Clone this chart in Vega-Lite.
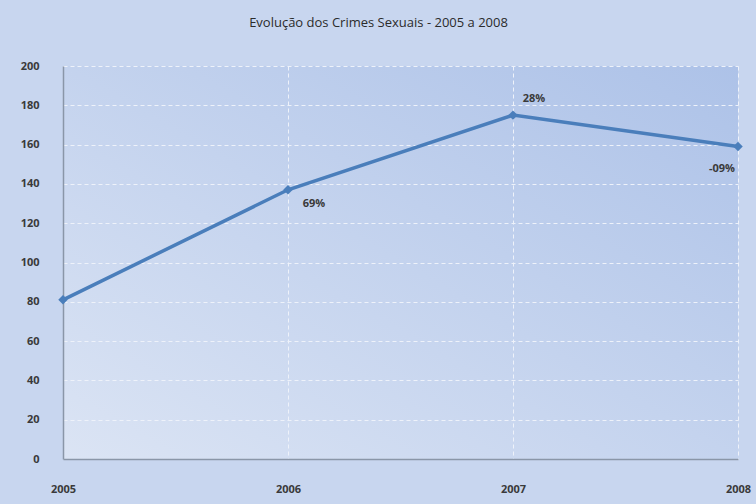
{
  "$schema": "https://vega.github.io/schema/vega-lite/v6.json",
  "width": 675,
  "height": 393,
  "autosize": {"type": "none"},
  "padding": {"left": 63, "top": 66, "right": 18, "bottom": 45},
  "background": "#c8d6ef",
  "title": {
    "text": "Evolução dos Crimes Sexuais - 2005 a 2008",
    "font": "Open Sans",
    "fontSize": 13,
    "fontWeight": "normal",
    "color": "#2b2b2b",
    "anchor": "middle",
    "dx": -22,
    "offset": 30
  },
  "config": {
    "view": {
      "stroke": null,
      "fill": {
        "gradient": "linear",
        "x1": 0, "y1": 1, "x2": 1, "y2": 0,
        "stops": [
          {"offset": 0, "color": "#dbe4f4"},
          {"offset": 1, "color": "#adc2e8"}
        ]
      }
    },
    "axis": {
      "labelFont": "Open Sans",
      "labelFontSize": 11,
      "labelFontWeight": "bold",
      "labelColor": "#3a3a3a",
      "domainColor": "#8a96a8",
      "domainWidth": 1.5,
      "ticks": false,
      "gridColor": "#eef2fa",
      "gridDash": [4, 3],
      "gridWidth": 1,
      "title": null
    }
  },
  "data": {
    "values": [
      {"ano": 2005, "crimes": 81, "variacao": ""},
      {"ano": 2006, "crimes": 137, "variacao": "69%"},
      {"ano": 2007, "crimes": 175, "variacao": "28%"},
      {"ano": 2008, "crimes": 159, "variacao": "-09%"}
    ]
  },
  "encoding": {
    "x": {
      "field": "ano",
      "type": "quantitative",
      "scale": {"domain": [2005, 2008], "nice": false, "zero": false},
      "axis": {"values": [2005, 2006, 2007, 2008], "format": "d", "labelPadding": 24, "labelFlush": false}
    },
    "y": {
      "field": "crimes",
      "type": "quantitative",
      "scale": {"domain": [0, 200], "nice": false},
      "axis": {"values": [0, 20, 40, 60, 80, 100, 120, 140, 160, 180, 200], "labelPadding": 24}
    }
  },
  "layer": [
    {
      "mark": {"type": "line", "color": "#4a7ebb", "strokeWidth": 3.5}
    },
    {
      "mark": {"type": "point", "shape": "diamond", "filled": true, "size": 90, "color": "#4a7ebb", "opacity": 1}
    },
    {
      "transform": [{"filter": "datum.ano == 2006"}],
      "mark": {"type": "text", "font": "Open Sans", "fontSize": 11, "fontWeight": "bold", "color": "#3a3a3a", "dx": 26, "dy": 14},
      "encoding": {"text": {"field": "variacao"}}
    },
    {
      "transform": [{"filter": "datum.ano == 2007"}],
      "mark": {"type": "text", "font": "Open Sans", "fontSize": 11, "fontWeight": "bold", "color": "#3a3a3a", "dx": 21, "dy": -16},
      "encoding": {"text": {"field": "variacao"}}
    },
    {
      "transform": [{"filter": "datum.ano == 2008"}],
      "mark": {"type": "text", "font": "Open Sans", "fontSize": 11, "fontWeight": "bold", "color": "#3a3a3a", "dx": -16, "dy": 22},
      "encoding": {"text": {"field": "variacao"}}
    }
  ]
}
